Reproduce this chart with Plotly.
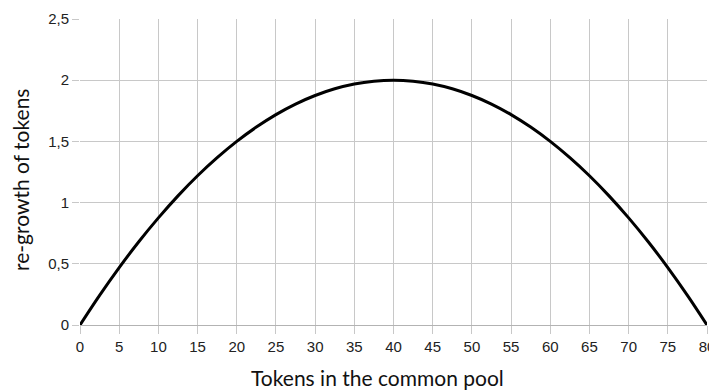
import plotly.graph_objects as go

tokens = [0, 2.5, 5, 7.5, 10, 12.5, 15, 17.5, 20, 22.5, 25, 27.5, 30, 32.5, 35, 37.5, 40,
          42.5, 45, 47.5, 50, 52.5, 55, 57.5, 60, 62.5, 65, 67.5, 70, 72.5, 75, 77.5, 80]
regrowth = [0, 0.242, 0.469, 0.68, 0.875, 1.055, 1.219, 1.367, 1.5, 1.617, 1.719, 1.805, 1.875,
            1.93, 1.969, 1.992, 2.0, 1.992, 1.969, 1.93, 1.875, 1.805, 1.719, 1.617, 1.5,
            1.367, 1.219, 1.055, 0.875, 0.68, 0.469, 0.242, 0]

x_ticks = list(range(0, 81, 5))
y_tickvals = [0, 0.5, 1, 1.5, 2, 2.5]
y_ticktext = ["0", "0,5", "1", "1,5", "2", "2,5"]
x_title = "Tokens in the common pool"
y_title = "re-growth of tokens"

fig = go.Figure()
fig.add_trace(go.Scatter(x=tokens, y=regrowth, mode="lines",
                         line=dict(color="black", width=3, shape="spline"),
                         showlegend=False, hoverinfo="skip"))

title_font = dict(family="Lato, Open Sans, sans-serif", size=21, color="#111111")

# page body has an 8px default margin, so the figure is sized/placed to compensate
fig.update_layout(
    width=709, height=384,
    margin=dict(l=72, r=10, t=11, b=67),
    paper_bgcolor="white", plot_bgcolor="white",
    font=dict(family="Liberation Sans, Arial, sans-serif", color="#222222", size=15),
    xaxis=dict(
        range=[0, 80], tickvals=x_ticks, ticktext=[str(v) for v in x_ticks],
        showgrid=True, gridcolor="#c8c8c8", gridwidth=1,
        ticks="outside", ticklen=8, tickcolor="#c8c8c8",
        showline=True, linecolor="#b3b3b3", zeroline=False, automargin=False,
    ),
    yaxis=dict(
        range=[0, 2.5], tickvals=y_tickvals, ticktext=y_ticktext,
        showgrid=True, gridcolor="#c8c8c8", gridwidth=1,
        ticks="outside", ticklen=7, tickcolor="#c8c8c8",
        showline=False, zeroline=False, automargin=False,
    ),
    annotations=[
        dict(text=x_title, xref="paper", yref="paper", x=0.474, y=-0.17,
             xanchor="center", yanchor="middle", showarrow=False, font=title_font),
        dict(text=y_title, xref="paper", yref="paper", x=-0.094, y=0.474,
             xanchor="center", yanchor="middle", showarrow=False, textangle=-90, font=title_font),
    ],
)

fig.write_html("out.html")
